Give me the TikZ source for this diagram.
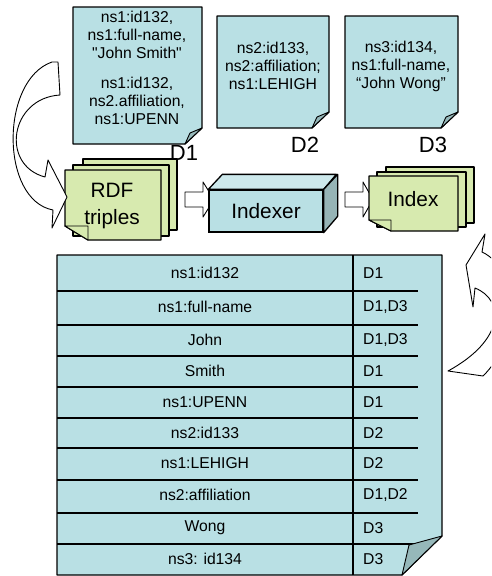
\documentclass[tikz,border=0pt]{standalone}
\usepackage{fontspec}
\setmainfont{Liberation Sans}[Ligatures=TeXOff]
\usetikzlibrary{positioning,calc}
\definecolor{docblue}{RGB}{185,224,228}
\definecolor{foldblue}{RGB}{150,184,186}
\definecolor{stackgreen}{RGB}{215,234,175}
\definecolor{cubetop}{RGB}{205,233,236}
\definecolor{cubeside}{RGB}{150,180,182}

\begin{document}
\begin{tikzpicture}[x=1pt, y=-1pt,
  page/.style={draw, fill=docblue, line width=1.3pt, line join=round},
  fold/.style={draw, fill=foldblue, line width=0.9pt, line join=round},
  sheet/.style={draw, fill=stackgreen, line width=1.3pt, line join=round},
  txt/.style={align=center, font=\fontsize{15.7}{18}\selectfont},
  cell/.style={inner sep=0pt, font=\fontsize{15.7}{18}\selectfont},
  doclbl/.style={font=\fontsize{22}{24}\selectfont},
  big/.style={align=center, font=\fontsize{20.8}{27}\selectfont},
  fat/.style={draw, fill=white, line width=0.9pt, line join=round},
  rowline/.style={line width=1.3pt},
]
\useasboundingbox (0,0) rectangle (491,576);

\foreach \l/\t/\r/\b in {73/7/202/144, 217/16/329/128, 345/16/458/128}{
  \draw[page] (\l,\t) -- (\r,\t) -- (\r,\b-16) -- (\r-17,\b) -- (\l,\b) -- cycle;
  \draw[fold] (\r-17,\b) -- (\r-12,\b-11) -- (\r,\b-16) -- cycle;
}
\node[txt] (d1top) at (137,35) {ns1:id132,\\ns1:full-name,\\"John Smith"};
\node[txt] (d1bot) at (137,101) {ns1:id132,\\ns2.affiliation,\\ns1:UPENN};
\node[txt] (d2txt) at (273,66) {ns2:id133,\\ns2:affiliation;\\ns1:LEHIGH};
\node[txt] (d3txt) at (401,66) {ns3:id134,\\ns1:full-name,\\“John Wong”};
\node[doclbl] (d1) at (184,153) {D1};
\node[doclbl] (d2) at (305,145) {D2};
\node[doclbl] (d3) at (433,145) {D3};

\draw[fat] (185,192) -- (203,192) -- (203,182) -- (214,199.5) -- (203,217) -- (203,207) -- (185,207) -- cycle;
\draw[fat] (345,192) -- (363,192) -- (363,182) -- (373,199.5) -- (363,217) -- (363,207) -- (345,207) -- cycle;

\draw[sheet] (83,159) rectangle (177,230);
\draw[sheet] (73,165) rectangle (169,236);
\draw[sheet] (65,170) -- (161,170) -- (161,240) -- (88,240) -- (65,226) -- cycle;
\draw[sheet, line width=0.9pt] (65,226) -- (88,226) -- (88,240) -- cycle;
\node[big] (rdf) at (112,206) {RDF\\triples};

\node[draw, fill=docblue, line width=1.3pt, minimum width=114pt, minimum height=42pt,
  inner sep=0pt, font=\fontsize{20.8}{24}\selectfont] (indexer) at (266,211) {Indexer};
\draw[fill=cubetop, line width=1.3pt, line join=round] (indexer.north west) -- ++(14,-15) -- ++(114,0) -- (indexer.north east) -- cycle;
\draw[fill=cubeside, line width=1.3pt, line join=round] (indexer.north east) -- ++(14,-15) -- ++(0,42) -- (indexer.south east) -- cycle;

\draw[sheet] (386,167) rectangle (474,223);
\draw[sheet] (377,172) rectangle (466,227);
\draw[sheet] (369,176) -- (458,176) -- (458,231) -- (391,231) -- (369,220) -- cycle;
\draw[sheet, line width=0.9pt] (369,220) -- (391,220) -- (391,231) -- cycle;
\node[big] (index) at (413,199) {Index};

\draw[fat] (52,62) -- (58,62) -- (60,95) .. controls (10,98) and (0,165) .. (45,177)
  -- (48,160) -- (67,197) -- (52,228) -- (53,210) .. controls (0,200) and (0,80) .. (52,62) -- cycle;
\begin{scope}
  \clip (0,0) rectangle (491,576);
  \draw[fat] (485,234) -- (466,265) -- (473,307) -- (475,288) .. controls (505,300) and (505,340) .. (448,371)
    -- (483,376) .. controls (520,340) and (520,270) .. (482,252) -- cycle;
\end{scope}

\draw[page] (57,255) -- (442,255) -- (442,536) -- (402,575) -- (57,575) -- cycle;
\foreach \y in {291,325,356,387,418,448,480,513,544}
  \draw[rowline] (57,\y) -- (418,\y);
\draw[rowline] (353,255) -- (353,575);
\draw[fold] (402,575) -- (409,545) -- (442,536) -- cycle;
\foreach \k/\yc/\term/\docs in {1/273/ns1:id132/D1, 2/307/ns1:full-name/{D1,D3}, 3/340/John/{D1,D3},
  4/371/Smith/D1, 5/402/ns1:UPENN/D1, 6/433/ns2:id133/D2, 7/463/ns1:LEHIGH/D2,
  8/495/ns2:affiliation/{D1,D2}, 9/528/Wong/D3, 10/559/ns3: id134/D3}{
  \node[cell] (term\k) at (205,\yc) {\term};
  \node[cell, anchor=west] (docs\k) at (363,\yc) {\docs};
}
\end{tikzpicture}
\end{document}
